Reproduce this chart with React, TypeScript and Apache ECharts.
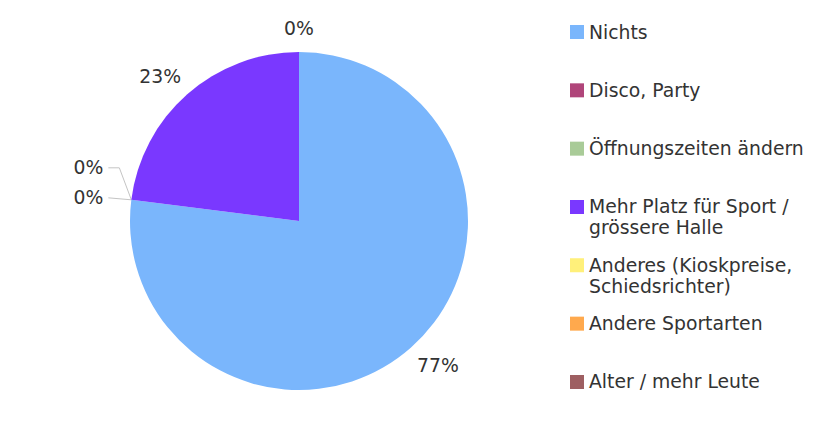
import React, { useEffect, useRef } from "react";
import * as echarts from "echarts";

const categories = [
  "Nichts",
  "Disco, Party",
  "Öffnungszeiten ändern",
  "Mehr Platz für Sport /\ngrössere Halle",
  "Anderes (Kioskpreise,\nSchiedsrichter)",
  "Andere Sportarten",
  "Alter / mehr Leute",
];
const values = [77, 0, 0, 23, 0, 0, 0];
const colors = ["#7ab6fc", "#b0457a", "#a9cb98", "#7a38ff", "#fff07a", "#ffa94d", "#9e5f62"];
// which zero labels at the top are drawn (they coincide there)
const showLabel = [true, true, true, true, false, true, false];

const CX = 299;
const CY = 221;
const R = 169;
const FONT = "DejaVu Sans";
const FS = 18.8;

export default function App() {
  const ref = useRef<HTMLDivElement>(null);
  useEffect(() => {
    if (!ref.current) return;
    const chart = echarts.init(ref.current, undefined, { renderer: "svg" });
    const twoLinePath =
      "path://M0,3.5h14v14h-14z M0,0h0.01v0.01h-0.01z M0,41.99h0.01v0.01h-0.01z";
    const legends = categories.map((name, i) => {
      const two = name.includes("\n");
      return {
        data: [name],
        orient: "vertical" as const,
        left: 570,
        top: 21.5 + i * 58.33,
        padding: 0,
        itemGap: 0,
        itemWidth: 14,
        itemHeight: two ? 42 : 14,
        icon: two ? twoLinePath : "rect",
        selectedMode: false,
        textStyle: { fontFamily: FONT, fontSize: FS, lineHeight: 21, color: "#333" },
      };
    });
    chart.setOption({
      animation: false,
      backgroundColor: "#fff",
      color: colors,
      legend: legends,
      series: [
        {
          type: "pie",
          center: [CX, CY],
          radius: R,
          clockwise: true,
          startAngle: 90,
          percentPrecision: 0,
          itemStyle: { borderWidth: 0 },
          label: {
            show: true,
            position: "outside",
            formatter: "{d}%",
            fontFamily: FONT,
            fontSize: FS,
            color: "#333",
          },
          labelLine: {
            show: true,
            length: 10,
            length2: 10,
            lineStyle: { color: "#c4c4c4", width: 1 },
          },
          labelLayout: (p: any) => {
            const pts = p.labelLinePoints;
            if (!pts || !pts.length) return {};
            const ex = pts[0][0];
            const ey = pts[0][1];
            const vx = ex - CX;
            const vy = ey - CY;
            const len = Math.hypot(vx, vy) || 1;
            const ux = vx / len;
            const uy = vy / len;
            const v = values[p.dataIndex];
            if (v === 0 && ux < -0.5) {
              // stacked zero labels on the left with guide lines
              const upper = p.dataIndex === 1;
              const ly = upper ? ey - 32 : ey - 2;
              return {
                x: ex - 28,
                y: ly,
                align: "right",
                verticalAlign: "middle",
                labelLinePoints: upper
                  ? [[ex, ey], [ex - 12, ly], [ex - 23, ly]]
                  : [[ex, ey], [ex - 23, ly]],
              };
            }
            return {
              x: CX + ux * (R + 41),
              y: CY + uy * (R + 24),
              align: "center",
              verticalAlign: "middle",
              labelLinePoints: [[ex, ey], [ex, ey]],
            };
          },
          data: categories.map((name, i) => ({
            name,
            value: values[i],
            label: { show: showLabel[i] },
          })),
        },
      ],
    });
    return () => chart.dispose();
  }, []);
  return (
    <div
      ref={ref}
      style={{ position: "fixed", left: 0, top: 0, width: 824, height: 421, background: "#fff" }}
    />
  );
}
